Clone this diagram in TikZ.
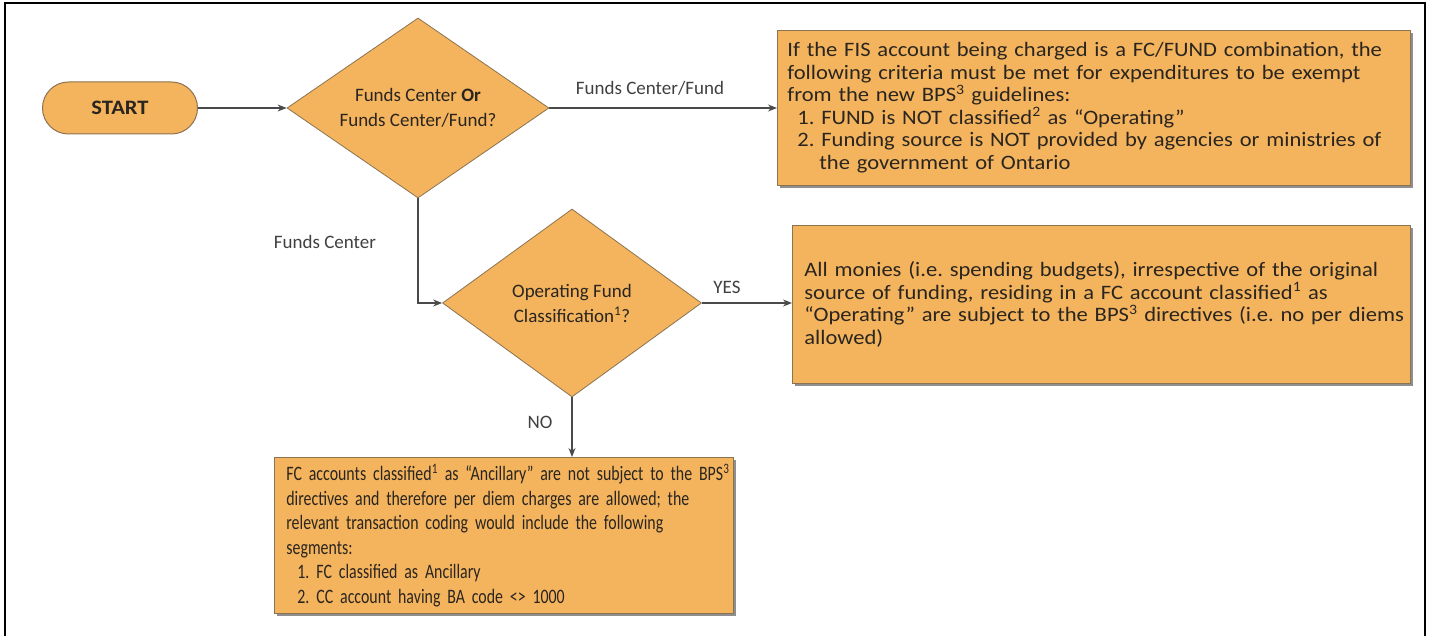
\documentclass[tikz,border=0pt]{standalone}
\usepackage{fontspec}
\setmainfont{Carlito}[FakeStretch=1.1]
\newfontfamily\plainfont{Carlito}
\newfontfamily\narrowfont{Carlito}[FakeStretch=0.775]
\usetikzlibrary{shapes.geometric,arrows.meta,shadows}
\definecolor{boxfill}{HTML}{F4B45E}
\definecolor{boxline}{HTML}{8A7350}
\definecolor{txt}{HTML}{2A251F}
\definecolor{arrowc}{HTML}{4A4A4A}
\newcommand{\oneline}[1]{\mbox{#1}\\}
\begin{document}
\frenchspacing
\begin{tikzpicture}[x=1pt,y=1pt,
  every node/.style={text=txt, font=\fontsize{20.5}{22.5}\selectfont},
  decision/.style={diamond, draw=boxline, fill=boxfill, line width=0.8pt, inner sep=0pt, shape aspect=1.45, align=center, font=\plainfont\fontsize{19}{25}\selectfont},
  startbox/.style={draw=boxline, fill=boxfill, line width=1pt, rounded corners=26pt, minimum width=155pt, minimum height=52pt, font=\fontsize{20.5}{22.5}\selectfont\bfseries},
  infobox/.style={draw=boxline, fill=boxfill, line width=0.8pt, align=left, inner xsep=10pt, anchor=north west,
     drop shadow={shadow xshift=2.5pt, shadow yshift=-2.5pt, fill=black!55, opacity=0.8}},
  flow/.style={draw=arrowc, line width=1.1pt, -{Stealth[length=9pt,width=7pt]}},
  lbl/.style={text=black!75, font=\plainfont\fontsize{19}{22.5}\selectfont}
]
\useasboundingbox (0,0) rectangle (1433,635);
\draw[line width=2pt, black] (5,-5) -- (5,632) -- (1425,632) -- (1425,-5);

\node[startbox] (start) at (120,527) {START};
\node[decision, minimum width=262pt, minimum height=180pt] (d1) at (418,527) {Funds Center \textbf{Or}\\Funds Center/Fund?};
\node[decision, minimum width=259pt, minimum height=188pt] (d2) at (572,332) {Operating Fund\\Classification\textsuperscript{1}?};

\node[infobox, minimum width=633pt, minimum height=155pt, text width=613pt] (b1) at (777,605) {%
\oneline{If the FIS account being charged is a FC/FUND combination, the}
\oneline{following criteria must be met for expenditures to be exempt}
\oneline{from the new BPS\textsuperscript{3} guidelines:}
\oneline{\hspace*{10pt}1. FUND is NOT classified\textsuperscript{2} as “Operating”}
\oneline{\hspace*{10pt}2. Funding source is NOT provided by agencies or ministries of}
\mbox{\hspace*{32pt}the government of Ontario}};

\node[infobox, minimum width=618pt, minimum height=158pt, text width=594pt, inner xsep=12pt] (b2) at (792,410) {%
\oneline{All monies (i.e. spending budgets), irrespective of the original}
\oneline{source of funding, residing in a FC account classified\textsuperscript{1} as}
\oneline{“Operating” are subject to the BPS\textsuperscript{3} directives (i.e. no per diems}
\mbox{allowed)}};

\node[infobox, minimum width=459pt, minimum height=156pt, text width=435pt, inner xsep=12pt, font=\narrowfont\fontsize{20.5}{24.5}\selectfont] (b3) at (274,178) {%
\oneline{FC accounts classified\textsuperscript{1} as “Ancillary” are not subject to the BPS\textsuperscript{3}}
\oneline{directives and therefore per diem charges are allowed; the}
\oneline{relevant transaction coding would include the following}
\oneline{segments:}
\oneline{\hspace*{11pt}\makebox[19pt][l]{1.}FC classified as Ancillary}
\mbox{\hspace*{11pt}\makebox[19pt][l]{2.}CC account having BA code <> 1000}};

\draw[flow] (start) -- (d1.west);
\draw[flow] (d1.east) -- (d1.east -| b1.west);
\draw[flow] (d1.south) |- (d2.west);
\draw[flow] (d2.east) -- (d2.east -| b2.west);
\draw[flow] (d2.south) -- (d2.south |- b3.north);

\node[lbl] (l1) at (650,547) {Funds Center/Fund};
\node[lbl] (l2) at (325,393) {Funds Center};
\node[lbl] (l3) at (727,348) {YES};
\node[lbl] (l4) at (540,213) {NO};
\end{tikzpicture}
\end{document}
